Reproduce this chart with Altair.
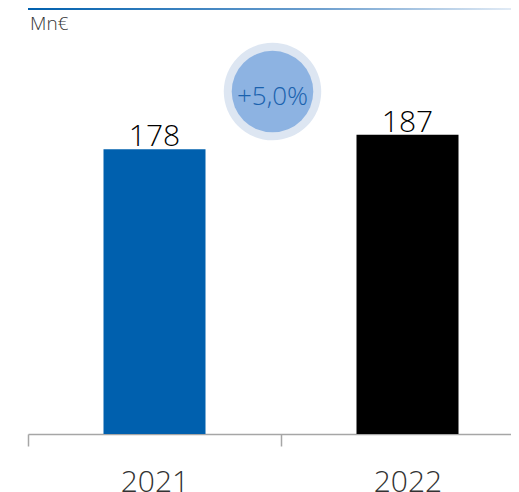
import altair as alt
import pandas as pd

years = ["2021", "2022"]
values = [178, 187]
bar_colors = ["#0060AE", "#000000"]
unit_label = "Mn€"
growth_label = "+5,0%"
growth_level = 214

df = pd.DataFrame({"year": years, "value": values, "color": bar_colors})

FONT = "Open Sans"

yscale = alt.Scale(domain=[0, 250], nice=False, zero=True)

x = alt.X("year:N", sort=years, title=None,
          scale=alt.Scale(range=[0, 506], paddingInner=0, paddingOuter=0),
          axis=alt.Axis(labelAngle=0, labelFontSize=30, labelFont=FONT, labelFontWeight=300,
                        labelColor="#333333", labelPadding=21, tickSize=12, tickBand="extent",
                        domainColor="#A6A6A6", tickColor="#A6A6A6", domainWidth=1.5,
                        tickWidth=1.5, grid=False))
y = alt.Y("value:Q", scale=yscale, axis=None)

bars = alt.Chart(df).mark_bar(size=102).encode(
    x=x, y=y, color=alt.Color("color:N", scale=None)
)

labels = alt.Chart(df).mark_text(fontSize=30, font=FONT, fontWeight=300, baseline="alphabetic",
                                 dy=-3, color="#000000").encode(
    x=x, y=y, text="value:Q"
)

ann_df = pd.DataFrame({"year": ["2021"], "value": [growth_level], "txt": [growth_label]})
outer = alt.Chart(ann_df).mark_circle(size=9500, color="#DDE6F2", opacity=1, xOffset=118).encode(
    x=x, y=y
)
inner = alt.Chart(ann_df).mark_circle(size=6650, color="#8DB3E2", opacity=1, xOffset=118).encode(
    x=x, y=y
)
ann_text = alt.Chart(ann_df).mark_text(fontSize=26, font=FONT, fontWeight=300, color="#1A62AE",
                                       xOffset=118, baseline="middle", dy=5).encode(
    x=x, y=y, text="txt:N"
)

unit = alt.Chart(pd.DataFrame({"t": [unit_label]})).mark_text(
    fontSize=19, font=FONT, fontWeight=300, color="#333333", align="left", baseline="alphabetic"
).encode(x=alt.value(2), y=alt.value(-4), text="t:N")

topline = alt.Chart(pd.DataFrame({"t": [unit_label]})).mark_rect(
    fill=alt.Gradient(gradient="linear", x1=0, x2=1, y1=0, y2=0,
                      stops=[alt.GradientStop(color="#0060AE", offset=0),
                             alt.GradientStop(color="#6FA0CF", offset=0.6),
                             alt.GradientStop(color="#E6EEF7", offset=1)])
).encode(x=alt.value(0), x2=alt.value(491), y=alt.value(-26), y2=alt.value(-24))

chart = alt.layer(topline, unit, bars, labels, outer, inner, ann_text).properties(
    width=483, height=400,
    autosize=alt.AutoSizeParams(type="none"),
    padding={"left": 20, "top": 26, "right": 0, "bottom": 60},
).configure_view(stroke=None)

chart.save("out.html", embed_options={"renderer": "svg", "actions": False})
